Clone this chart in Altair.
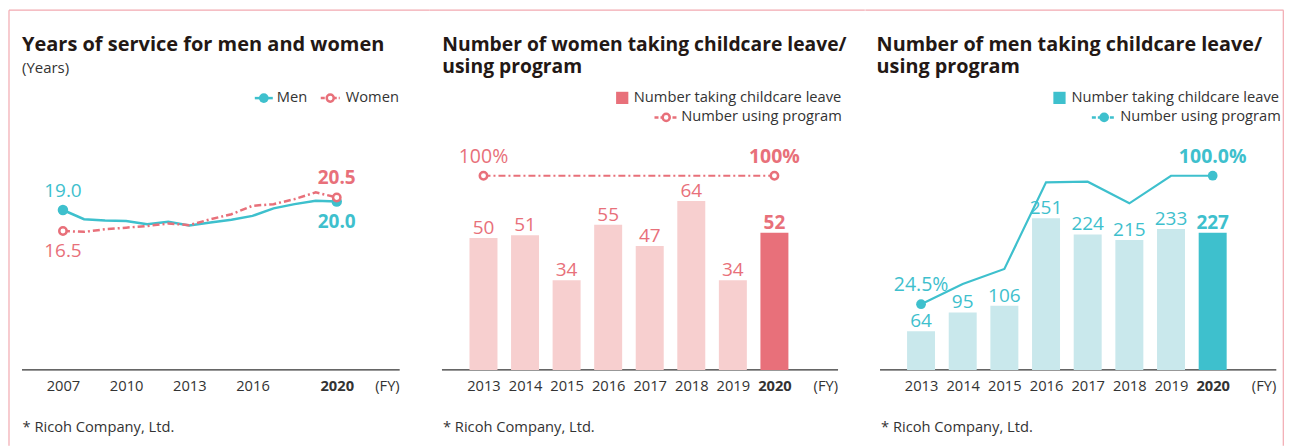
import altair as alt
import pandas as pd

# ---------------- data ----------------
service_years = list(range(2007, 2021))
men_service = [19.0, 17.9, 17.75, 17.7, 17.3, 17.6, 17.15, 17.5, 17.85, 18.3, 19.2, 19.7, 20.1, 20.0]
women_service = [16.5, 16.4, 16.7, 16.9, 17.1, 17.4, 17.2, 17.9, 18.5, 19.5, 19.7, 20.3, 21.1, 20.5]
service_ticks = [2007, 2010, 2013, 2016, 2020]

leave_years = [2013, 2014, 2015, 2016, 2017, 2018, 2019, 2020]
women_leave = [50, 51, 34, 55, 47, 64, 34, 52]
women_program = [100, 100, 100, 100, 100, 100, 100, 100]
men_leave = [64, 95, 106, 251, 224, 215, 233, 227]
men_program = [24.5, 36.4, 45.2, 96.1, 96.5, 83.8, 100.0, 100.0]

title_service = "Years of service for men and women"
unit_service = "(Years)"
title_women = ["Number of women taking childcare leave/", "using program"]
title_men = ["Number of men taking childcare leave/", "using program"]
legend_leave = "Number taking childcare leave"
legend_program = "Number using program"
footer = "* Ricoh Company, Ltd."
fy_label = "(FY)"

# ---------------- styles ----------------
FONT = "Open Sans"
TEAL = "#3EC0CD"
TEAL_LIGHT = "#C9E8EC"
PINK = "#E8707A"
PINK_LIGHT = "#F7CFCF"
BORDER = "#F2A9B0"
INK = "#231815"
AXIS_INK = "#333333"
DASH = [7, 3, 2, 3]
TXT = 14.7

H = 438
W1, W2, W3 = 422, 436, 419
AXIS_Y = 362
ONE = pd.DataFrame({"k": [0]})


def xscale(first_year, last_year, first_px, last_px, width):
    ppy = (last_px - first_px) / (last_year - first_year)
    return alt.Scale(domain=[first_year - first_px / ppy, last_year + (width - last_px) / ppy],
                     nice=False, zero=False)


def yscale(zero_px, ppu):
    return alt.Scale(domain=[-(H - zero_px) / ppu, zero_px / ppu], nice=False, zero=False)


def xaxis(values):
    return alt.Axis(values=values, format="d", offset=-(H - AXIS_Y), domain=False, ticks=False,
                    grid=False, labelFont=FONT, labelFontSize=TXT, labelColor=AXIS_INK,
                    labelPadding=9, labelFlush=False, labelOverlap=False, title=None,
                    labelFontWeight={"condition": {"test": "datum.value == 2020", "value": "bold"},
                                     "value": "normal"})


def text_at(x, y, text, size=TXT, weight="normal", color=INK, align="left",
            baseline="middle"):
    return alt.Chart(ONE).mark_text(font=FONT, fontSize=size, fontWeight=weight, color=color,
                                    align=align, baseline=baseline).encode(
        x=alt.value(x), y=alt.value(y), text=alt.value(text))


def hline(x1, x2, y, color, width=1.0, dash=None):
    kw = dict(color=color, strokeWidth=width)
    if dash:
        kw["strokeDash"] = dash
    return alt.Chart(ONE).mark_rule(**kw).encode(
        x=alt.value(x1), x2=alt.value(x2), y=alt.value(y))


def vline(x, y1, y2, color, width=1.0):
    return alt.Chart(ONE).mark_rule(color=color, strokeWidth=width).encode(
        x=alt.value(x), y=alt.value(y1), y2=alt.value(y2))


def dot_at(x, y, color, size, hollow=False):
    if hollow:
        m = alt.Chart(ONE).mark_point(shape="circle", filled=True, fill="white", stroke=color,
                                      strokeWidth=2.5, size=size, opacity=1)
    else:
        m = alt.Chart(ONE).mark_point(shape="circle", filled=True, color=color, size=size, opacity=1)
    return m.encode(x=alt.value(x), y=alt.value(y))


def square_at(x, y, color, size):
    return alt.Chart(ONE).mark_square(color=color, size=size, opacity=1).encode(
        x=alt.value(x), y=alt.value(y))


# ---------------- panel 1: years of service ----------------
svc = pd.DataFrame({"year": service_years, "men": men_service, "women": women_service})
X1 = alt.X("year:Q", scale=xscale(2007, 2020, 55, 329, W1), axis=xaxis(service_ticks))
YS = yscale(361.6, 8.4)
ends1 = "datum.year == 2007 || datum.year == 2020"

base1 = alt.Chart(svc)
men_line = base1.mark_line(color=TEAL, strokeWidth=2.5).encode(
    x=X1, y=alt.Y("men:Q", scale=YS, axis=None))
women_line = base1.mark_line(color=PINK, strokeWidth=2.5, strokeDash=DASH).encode(
    x=X1, y=alt.Y("women:Q", scale=YS, axis=None))
men_pts = base1.transform_filter(ends1).mark_point(
    shape="circle", filled=True, color=TEAL, size=110, opacity=1).encode(
    x=X1, y=alt.Y("men:Q", scale=YS, axis=None))
women_pts = base1.transform_filter(ends1).mark_point(
    shape="circle", filled=True, fill="white", stroke=PINK, strokeWidth=2.5, size=55, opacity=1).encode(
    x=X1, y=alt.Y("women:Q", scale=YS, axis=None))


def svc_label(field, year, dy, color, weight):
    return base1.transform_filter(f"datum.year == {year}").mark_text(
        font=FONT, fontSize=19, fontWeight=weight, color=color, dy=dy, baseline="middle").encode(
        x=X1, y=alt.Y(f"{field}:Q", scale=YS, axis=None),
        text=alt.Text(f"{field}:Q", format=".1f"))


p1 = alt.layer(
    hline(1, W1, 2, BORDER, 1.2),
    vline(1, 2, H, BORDER, 1.2),
    text_at(14, 43, title_service, size=20, weight="bold", baseline="alphabetic"),
    text_at(14, 60, unit_service, size=15, color=AXIS_INK),
    hline(247, 265, 90, TEAL, 2.5),
    dot_at(256, 90, TEAL, 95),
    text_at(269, 90, "Men", color=AXIS_INK),
    hline(313, 332, 90, PINK, 2.5, [4, 2]),
    dot_at(322.5, 90, PINK, 50, hollow=True),
    text_at(338, 90, "Women", color=AXIS_INK),
    hline(14, 392, AXIS_Y, AXIS_INK, 1.3),
    text_at(392, 379, fy_label, color=AXIS_INK, align="right"),
    text_at(14.5, 420, footer, color=AXIS_INK),
    men_line, women_line, men_pts, women_pts,
    svc_label("men", 2007, -19, TEAL, "normal"),
    svc_label("men", 2020, 20, TEAL, "bold"),
    svc_label("women", 2007, 20, PINK, "normal"),
    svc_label("women", 2020, -19, PINK, "bold"),
).properties(width=W1, height=H)


# ---------------- bar + program panels ----------------
def leave_panel(leave, program, pct_fmt, dark, light, title, title_size, ppu, width, x_first, x_last,
                legend_x, title_x, axis_x1, axis_x2, hollow, dash, with_right_border):
    df = pd.DataFrame({"year": leave_years, "leave": leave, "pct": program})
    X = alt.X("year:Q", scale=xscale(2013, 2020, x_first, x_last, width), axis=xaxis(leave_years))
    YB = yscale(AXIS_Y, ppu)
    YP = yscale(338, 1.703)
    base = alt.Chart(df).transform_calculate(
        base="0", label=f"format(datum.pct, '{pct_fmt}') + '%'")
    bars = base.mark_bar(size=28).encode(
        x=X, y=alt.Y("leave:Q", scale=YB, axis=None), y2="base:Q",
        color=alt.condition("datum.year == 2020", alt.value(dark), alt.value(light)))

    def bar_text(test, weight):
        return base.transform_filter(test).mark_text(
            font=FONT, fontSize=19, fontWeight=weight, color=dark, dy=-4, baseline="alphabetic").encode(
            x=X, y=alt.Y("leave:Q", scale=YB, axis=None), text="leave:Q")

    line_kw = dict(color=dark, strokeWidth=2.2)
    if dash:
        line_kw["strokeDash"] = DASH
    line = base.mark_line(**line_kw).encode(x=X, y=alt.Y("pct:Q", scale=YP, axis=None))
    ends = "datum.year == 2013 || datum.year == 2020"
    if hollow:
        pts = base.transform_filter(ends).mark_point(
            shape="circle", filled=True, fill="white", stroke=dark, strokeWidth=2.5, size=55, opacity=1)
    else:
        pts = base.transform_filter(ends).mark_point(
            shape="circle", filled=True, color=dark, size=95, opacity=1)
    pts = pts.encode(x=X, y=alt.Y("pct:Q", scale=YP, axis=None))

    def pct_text(test, weight):
        return base.transform_filter(test).mark_text(
            font=FONT, fontSize=19.5, fontWeight=weight, color=dark, dy=-19, baseline="middle").encode(
            x=X, y=alt.Y("pct:Q", scale=YP, axis=None), text="label:N")

    sq_x, mk_x1, mk_x2, mk_c, txt1_x, txt2_x = legend_x
    layers = [
        hline(0, width - 0.5, 2, BORDER, 1.2),
        text_at(title_x, 43, title[0], size=title_size, weight="bold", baseline="alphabetic"),
        text_at(title_x, 64.5, title[1], size=title_size, weight="bold", baseline="alphabetic"),
        square_at(sq_x, 89.8, dark, 150),
        text_at(txt1_x, 89.5, legend_leave, color=AXIS_INK),
        hline(mk_x1, mk_x2, 109.3, dark, 2.5, [4, 2]),
        dot_at(mk_c, 109.3, dark, 50 if hollow else 95, hollow=hollow),
        text_at(txt2_x, 109.3, legend_program, color=AXIS_INK),
        hline(axis_x1, axis_x2, AXIS_Y, AXIS_INK, 1.3),
        text_at(axis_x2, 379, fy_label, color=AXIS_INK, align="right"),
        text_at(axis_x1 + 1, 420, footer, color=AXIS_INK),
        bars,
        bar_text("datum.year != 2020", "normal"),
        bar_text("datum.year == 2020", "bold"),
        line, pts,
        pct_text("datum.year == 2013", "normal"),
        pct_text("datum.year == 2020", "bold"),
    ]
    if with_right_border:
        layers.insert(0, vline(width - 0.7, 2, H, BORDER, 1.2))
    return alt.layer(*layers).resolve_scale(y="independent").properties(width=width, height=H)


p2 = leave_panel(women_leave, women_program, "d", PINK, PINK_LIGHT, title_women, 19.3, 2.64, W2,
                 50, 348, (192.7, 225, 247.7, 236.7, 204.3, 251.7), 12.7, 12.3, 408.7,
                 True, True, False)
p3 = leave_panel(men_leave, men_program, ".1f", TEAL, TEAL_LIGHT, title_men, 19.8, 0.605, W3,
                 52, 351, (194.3, 226.7, 250, 239, 206.3, 255), 11.3, 14.7, 411.3,
                 False, False, True)

chart = alt.hconcat(p1, p2, p3, spacing=0, bounds="flush").properties(
    padding={"left": 0, "top": 0, "right": 0, "bottom": 0}
).configure_view(stroke="transparent", strokeWidth=0)

chart.save("out.html", embed_options={"renderer": "svg", "actions": False})
